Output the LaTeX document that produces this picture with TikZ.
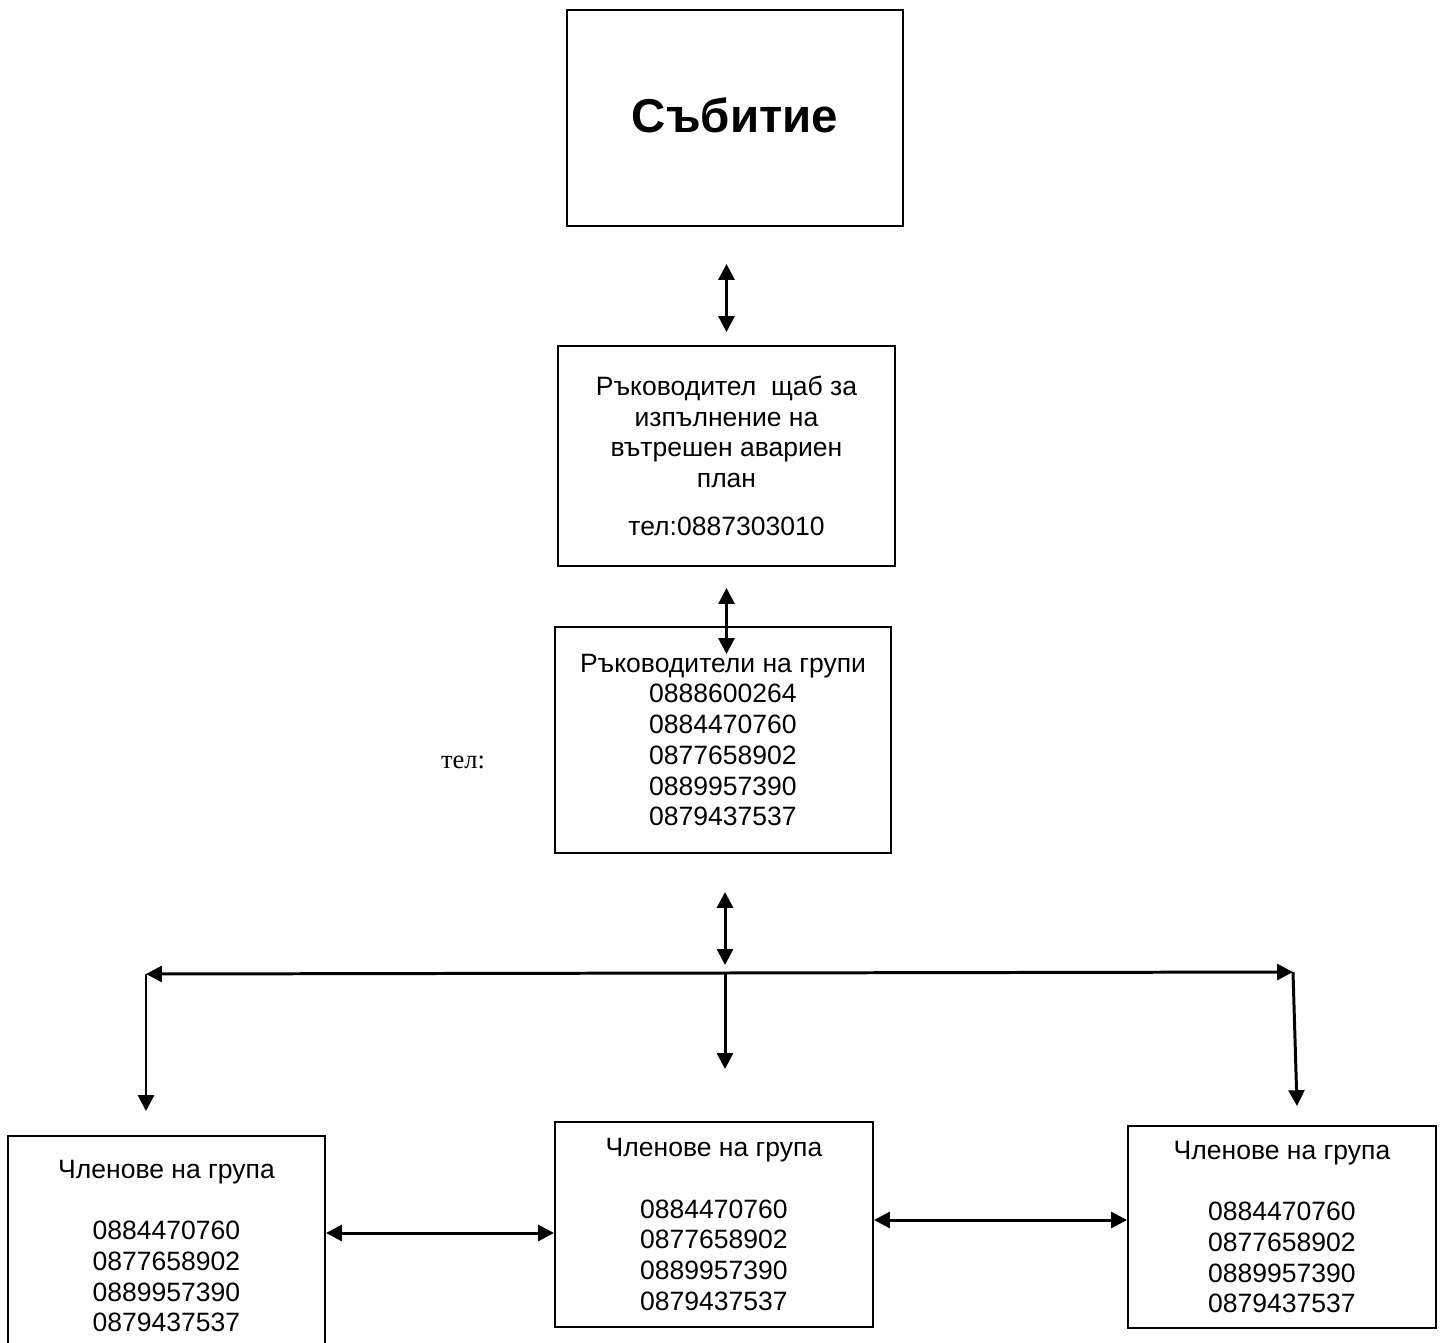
\documentclass[tikz,border=0pt]{standalone}
\usepackage{fontspec}
\setmainfont{Liberation Sans}
\newfontfamily\telfont{Liberation Serif}
\usetikzlibrary{arrows.meta}
\tikzset{
  box/.style={draw, line width=1.1pt, align=center, inner sep=0pt,
    font=\fontsize{15.1}{17.5}\selectfont},
  link/.style={line width=1.7pt, -{Triangle[length=9pt,width=9pt]}},
  twoway/.style={line width=1.7pt, {Triangle[length=9pt,width=9pt]}-{Triangle[length=9pt,width=9pt]}}
}

\begin{document}
\begin{tikzpicture}[x=0.02cm,y=-0.02cm]
    \useasboundingbox (0,0) rectangle (1440,1342);
    \path
        (735,118) node[box, minimum width=336*0.02cm, minimum height=216*0.02cm,
          font=\fontsize{27}{30}\bfseries] (event) {\raisebox{3pt}{Събитие}}
        (726.5,456) node[box, minimum width=337*0.02cm, minimum height=220*0.02cm] (chief)
        {Ръководител\ \ щаб за\\изпълнение на\\вътрешен авариен\\план\\[10pt]тел:0887303010}
        (723,740) node[box, minimum width=336*0.02cm, minimum height=226*0.02cm] (leaders)
        {Ръководители на групи\\0888600264\\0884470760\\0877658902\\0889957390\\0879437537}
        (463,762) node[font=\telfont\fontsize{15.1}{17.5}\selectfont] (tel) {тел:}
        (166.5,1246) node[box, minimum width=317*0.02cm, minimum height=220*0.02cm] (memA)
        {Членове на група\\[17.5pt]0884470760\\0877658902\\0889957390\\0879437537}
        (714,1224.5) node[box, minimum width=318*0.02cm, minimum height=205*0.02cm] (memB)
        {Членове на група\\[17.5pt]0884470760\\0877658902\\0889957390\\0879437537}
        (1282,1227) node[box, minimum width=308*0.02cm, minimum height=202*0.02cm] (memC)
        {Членове на група\\[17.5pt]0884470760\\0877658902\\0889957390\\0879437537};
    \path
        (146,974) coordinate (busL)
        (725,973) coordinate (busC)
        (1293,972) coordinate (busR)
        (146,1111) coordinate (dropL)
        (1297,1106) coordinate (dropR);
    \draw[twoway, shorten <=0.74cm, shorten >=0.26cm] (event.south -| chief.north) -- (chief.north);
    \draw[twoway, shorten <=0.42cm] (chief.south) -- ([yshift=-0.56cm]leaders.north -| chief.south);
    \draw[twoway, shorten <=0.76cm, shorten >=0.16cm] (leaders.south -| busC) -- (busC);
    \draw[twoway] (busL) -- (busR);
    \draw[link] (busL) -- (dropL);
    \draw[link] (busR) -- (dropR);
    \draw[link, shorten >=1.04cm] (busC) -- (memB.north -| busC);
    \draw[twoway] (memA.east |- 0,1233) -- (memB.west |- 0,1233);
    \draw[twoway] (memB.east |- 0,1220) -- (memC.west |- 0,1220); % --
\end{tikzpicture}
\end{document}
